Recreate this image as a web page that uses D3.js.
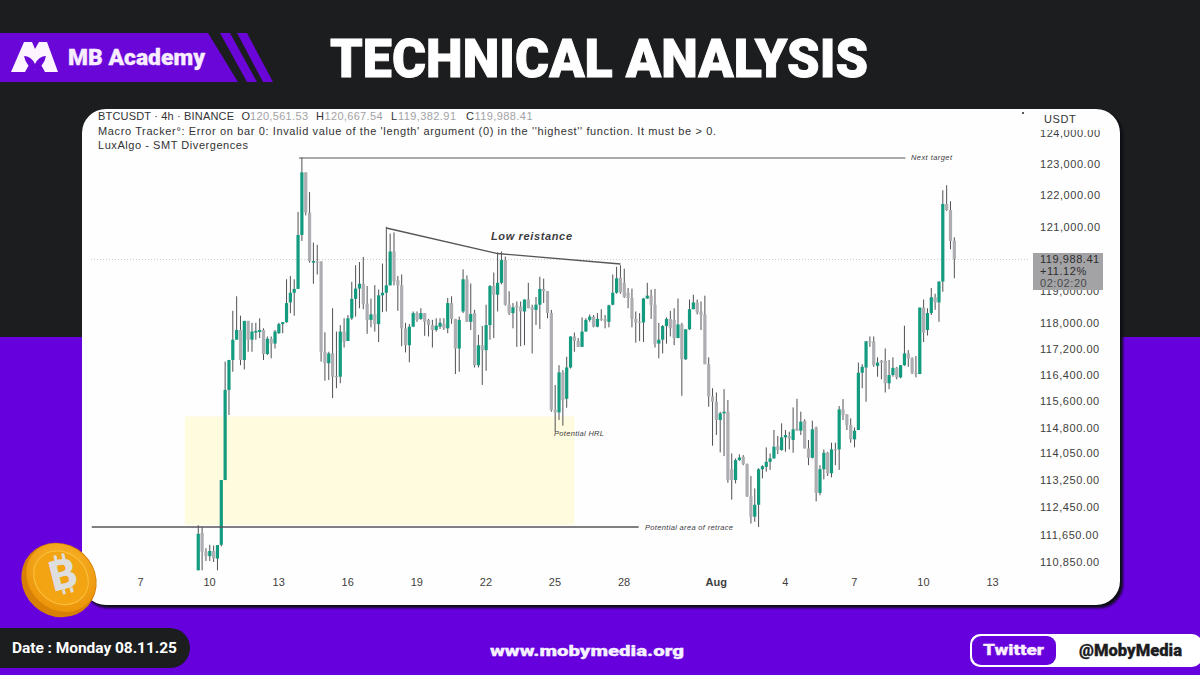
<!DOCTYPE html>
<html><head><meta charset="utf-8">
<script src="https://cdn.jsdelivr.net/npm/d3@7"></script>
<style>html,body{margin:0;padding:0;background:#1c1d1f;overflow:hidden}svg{display:block}</style>
</head><body><div id="chart"></div>
<script>
const opens=[110610,111690,111150,111020,111170,110950,111350,113250,115950,116860,
117480,117780,116860,118060,117480,117700,117720,117780,117040,117510,
117360,117680,117960,118020,118630,118930,119050,120740,122730,121450,
119870,119910,119910,117110,116760,117060,116370,116350,117730,117440,
118140,118740,119060,119210,118590,118090,118260,117960,118850,118930,
119160,120220,119320,119160,117830,117310,117880,118300,118120,118300,
118090,117930,117780,117880,117970,117830,118610,118120,117210,118350,
119350,118030,118300,116700,117310,117160,117930,119140,118870,119240,
119950,118560,118300,118530,118500,118350,118720,118480,118400,118560,
119050,118980,118300,115340,115270,116480,115680,116630,117580,117440,
117260,117730,118090,118190,117880,118120,118120,118030,118560,118930,
119400,119240,118930,118770,118120,118030,118010,118750,118840,118560,
117360,117480,117900,118120,118090,117530,117950,116880,117800,118420,
118630,118350,118260,116730,115750,115590,115040,115240,115290,113570,
113250,113840,113940,113720,112770,112170,112520,113570,113640,113790,
113890,114260,114140,114520,114560,114440,114790,114720,115020,114190,
113910,114820,112870,113570,114060,113450,114160,114160,115360,115210,
114890,114460,114740,116470,116630,117430,117430,116680,116840,116840,
116150,116400,116620,116330,116700,117060,116910,116470,116430,118470,
117780,118300,118790,118630,119280,121720,121530,120561];
const highs=[111920,111870,111250,111350,111330,111340,113250,116810,116860,118370,
118820,118220,118060,118060,118000,118000,118140,117830,117580,117580,
117780,118000,118020,119350,119450,119350,121470,123210,122730,122100,
120500,120430,119910,117710,117110,118450,117730,117930,118140,118240,
119270,119790,119890,120050,119140,118750,119170,119030,119840,121000,
120780,120820,119450,119500,118000,117960,118350,118350,118450,118300,
118120,118090,118140,118140,118140,118770,118820,118120,118190,119660,
119470,119220,118400,117630,117900,118560,119170,119560,120190,120220,
120060,118980,118610,118660,118660,118720,119240,118560,118800,119430,
119370,118980,118400,116100,116700,116550,116960,117580,117700,117530,
118170,118140,118260,118240,118300,118420,118240,118560,119500,119740,
119790,119680,119080,119060,118350,118300,118770,119240,119030,119050,
118000,117930,118170,118370,118450,118750,118000,117800,118720,118870,
118720,118660,118840,116940,116000,115870,115290,115970,115640,114040,
113890,114010,113990,113740,113370,113000,113600,113690,114220,114040,
114740,114560,114940,114740,114690,115420,115680,115290,115060,114440,
115020,114840,113690,114160,114090,114360,114360,115460,115670,115210,
115090,114820,116780,116730,117440,117580,117580,116940,116860,117210,
116860,116940,116650,116700,117910,117160,116940,116980,118470,118720,
118450,119080,118900,119280,122160,122320,121810,120667];
const lows=[110610,110610,110880,110880,110850,110610,111300,113250,115190,116500,
117480,116700,116570,117110,117110,117480,117530,116860,117010,116910,
117210,117660,117680,118000,118300,118220,119050,120550,121360,119870,
119210,119500,116810,116230,116250,115700,116000,116150,117240,117440,
118090,118190,118450,118420,117660,117860,117730,117410,118330,118350,
119160,119160,118370,117280,117090,116790,117880,118030,118090,117600,
117580,117240,117730,117810,117780,117680,117970,116430,116500,118300,
118030,117780,116630,116630,116100,116530,117480,117530,118350,119190,
118530,118240,117830,117260,117280,117310,118450,117060,117930,117810,
118610,118140,115290,114690,115040,114870,115410,116600,117110,117260,
117260,117730,118030,117860,117860,118060,117830,117860,118540,118900,
118900,118770,118450,117860,117390,117440,117410,118750,118120,117240,
116910,117060,117360,117580,117310,117530,115770,116860,117780,118420,
118260,117780,116730,115440,114270,114590,114070,113960,113170,112670,
113150,113820,113690,112750,111970,112020,111870,113300,113500,113550,
113890,114020,114120,114090,114160,114060,114720,114590,114190,113690,
113890,112620,112800,113270,113370,113330,113690,113550,115040,114740,
114360,114220,114740,116000,115590,117260,116650,116350,116270,115870,
115970,116350,116270,116300,116680,116650,116430,116330,116430,117410,
117610,118240,118400,118030,118960,121500,120290,119382];
const closes=[111670,111150,111020,111170,110950,111340,113250,115950,116860,117480,
117780,116860,118060,117480,117730,117750,117780,117040,117510,117360,
117730,117960,118020,118610,118930,119050,120740,122730,121450,119920,
119920,119870,117110,116760,117060,116350,116330,117730,117410,118140,
118740,119060,119210,118590,118090,118260,117960,118850,118930,119160,
120220,119290,119160,117830,117310,117880,118300,118090,118300,118030,
117930,117780,117910,118000,117830,118610,118120,117210,118090,119350,
118030,118270,116700,117310,117160,117930,119140,118870,119240,119950,
118560,118300,118480,118480,118350,118720,118450,118400,118560,119050,
118980,118300,115340,115270,116480,115640,116630,117580,117440,117260,
117730,118090,118190,117880,118120,118090,118050,118540,118930,119380,
118950,118800,118770,118120,118010,118000,118750,118840,118560,117360,
117480,117900,118120,117830,117530,117950,116880,117800,118420,118630,
118320,118240,116730,115750,115590,115040,115240,115290,113250,113250,
113840,113920,113720,112770,112170,112520,113570,113660,113790,113890,
114240,114140,114520,114590,114490,114760,114720,114990,114190,113910,
114760,112870,113570,114060,113450,114160,114140,115360,115190,114890,
114460,114720,116470,116650,117430,117400,116700,116780,116780,116150,
116400,116620,116330,116700,117060,116910,116470,116430,118470,117700,
118300,118790,118630,119280,121720,121530,120550,119988];
const firstBar="2025-07-09T12:00:00Z";
const barHours=4;
const priceTicks=[124000,123000,122000,121000,119000,118000,117200,116400,115600,114800,114050,113250,112450,111650,110850];
const dayTicks=["2025-07-07","2025-07-10","2025-07-13","2025-07-16","2025-07-19","2025-07-22","2025-07-25","2025-07-28","2025-08-01","2025-08-04","2025-08-07","2025-08-10","2025-08-13"];
const dayLabels=["7","10","13","16","19","22","25","28","Aug","4","7","10","13"];
const trendDates=["2025-07-17T16:00:00Z","2025-07-22T12:00:00Z","2025-07-27T20:00:00Z"];
const trendPrices=[120960,120156,119828];
const targetDates=["2025-07-13T21:00:00Z","2025-08-09T05:00:00Z"];
const targetPrice=123193;
const retraceDates=["2025-07-04T21:00:00Z","2025-07-28T15:00:00Z"];
const retracePrice=111870;
const zoneDates=["2025-07-08T22:00:00Z","2025-07-25T20:00:00Z"];
const zonePrices=[115150,111930];
const lastPrice=119970;
const legendO="120,561.53",legendH="120,667.54",legendL="119,382.91",legendC="119,988.41";

const W=1200,H=675;
const svg=d3.select("#chart").append("svg").attr("width",W).attr("height",H).attr("viewBox",[0,0,W,H]);
const defs=svg.append("defs");
const SANS="'Liberation Sans',Arial,sans-serif", HEAVY="Roboto,'Liberation Sans',sans-serif";
const x=d3.scaleUtc().domain([new Date("2025-07-07"),new Date("2025-08-13")]).range([140.7,992.7]);
const y=d3.scaleLog().domain([110850,123000]).range([562,164]);
const cardL=82,cardT=109,cardR=1120,cardB=605;
const PURPLE="#6600dc",BANNER="#6a06d8";

// background
svg.append("rect").attr("width",W).attr("height",H).attr("fill","#1c1d1f");
svg.append("rect").attr("y",337).attr("width",W).attr("height",H-337).attr("fill",PURPLE);

// banner
svg.append("path").attr("d","M0 33H208L238 82H0Z").attr("fill",BANNER);
svg.append("path").attr("d","M220 33H230L257 82H247Z").attr("fill",BANNER);
svg.append("path").attr("d","M237 33H247L273 82H263Z").attr("fill",BANNER);
svg.append("path").attr("d","M11 72L24 42H32L35 49L39 42H47L58 72H45L40 63L35 70L30 63L25 72Z").attr("fill","#fdf4ff");
svg.append("path").attr("d","M24 56Q31 56 35 64Q39 56 46 56Q44 66 35 70Q26 66 24 56Z").attr("fill",BANNER);
svg.append("text").attr("x",68).attr("y",65).attr("font-family",HEAVY).attr("font-weight",900).attr("font-size",22).attr("fill","#f8ecff").attr("stroke","#f8ecff").attr("stroke-width",0.3).attr("textLength",137).attr("lengthAdjust","spacingAndGlyphs").text("MB Academy");
svg.append("text").attr("x",330).attr("y",77).attr("font-family",HEAVY).attr("font-weight",900).attr("font-size",54).attr("fill","#fff").attr("stroke","#fff").attr("stroke-width",0.9).attr("textLength",538).attr("lengthAdjust","spacingAndGlyphs").text("TECHNICAL ANALYSIS");

// card
defs.append("filter").attr("id","soft").append("feGaussianBlur").attr("stdDeviation",1);
svg.append("rect").attr("x",cardL+2).attr("y",cardT+3).attr("width",cardR-cardL+1).attr("height",cardB-cardT).attr("rx",24).attr("fill","#0a0a12").attr("filter","url(#soft)");
svg.append("rect").attr("x",cardL).attr("y",cardT).attr("width",cardR-cardL).attr("height",cardB-cardT).attr("rx",24).attr("fill","#fefefe");

// zone
svg.append("rect").attr("x",x(new Date(zoneDates[0]))).attr("y",y(zonePrices[0])).attr("width",x(new Date(zoneDates[1]))-x(new Date(zoneDates[0]))).attr("height",y(zonePrices[1])-y(zonePrices[0])).attr("fill","#fffbdf");

// last price dotted
svg.append("line").attr("x1",91).attr("x2",1030).attr("y1",y(lastPrice)).attr("y2",y(lastPrice)).attr("stroke","#c9c9c9").attr("stroke-dasharray","1 2");

// candles
const t0=+new Date(firstBar);
const bars=opens.map((o,i)=>({t:new Date(t0+i*barHours*3600e3),o,h:highs[i],l:lows[i],c:closes[i]}));
const g=svg.append("g");
g.selectAll("line.w").data(bars).join("line").attr("class","w")
 .attr("x1",d=>x(d.t)).attr("x2",d=>x(d.t)).attr("y1",d=>y(d.h)).attr("y2",d=>y(d.l)).attr("stroke","#515155").attr("stroke-width",1);
g.selectAll("rect.b").data(bars).join("rect").attr("class","b")
 .attr("x",d=>x(d.t)-1.6).attr("width",3.2)
 .attr("y",d=>y(Math.max(d.o,d.c))).attr("height",d=>Math.max(1,Math.abs(y(d.o)-y(d.c))))
 .attr("fill",d=>d.c>=d.o?"#129b7f":"#adadb2");

// annotations
const lineCol="#565658";
svg.append("line").attr("x1",x(new Date(targetDates[0]))).attr("x2",x(new Date(targetDates[1]))).attr("y1",y(targetPrice)).attr("y2",y(targetPrice)).attr("stroke",lineCol).attr("stroke-width",1.2);
svg.append("line").attr("x1",x(new Date(retraceDates[0]))).attr("x2",x(new Date(retraceDates[1]))).attr("y1",y(retracePrice)).attr("y2",y(retracePrice)).attr("stroke",lineCol).attr("stroke-width",1.4);
svg.append("path").datum(trendDates.map((d,i)=>[x(new Date(d)),y(trendPrices[i])])).attr("d",d3.line()).attr("fill","none").attr("stroke",lineCol).attr("stroke-width",1.3);
const note=(t,px,py,len,size,w)=>svg.append("text").attr("x",px).attr("y",py).attr("font-family",SANS).attr("font-style","italic").attr("font-weight",w||400).attr("font-size",size).attr("fill","#3c3c3e").attr("textLength",len).text(t);
note("Next target",911,160,41,7.5);
note("Low reistance",491,240,81,11,700);
note("Potential HRL",554,435.5,50,7.5);
note("Potential area of retrace",645,530,88,7.5);
svg.append("circle").attr("cx",1023).attr("cy",113).attr("r",1).attr("fill","#222");

// legend
const legTxt=(t,px,py,fill,len)=>{const s=svg.append("text").attr("x",px).attr("y",py).attr("font-family",SANS).attr("font-size",11).attr("fill",fill).text(t);if(len)s.attr("textLength",len);return s;};
legTxt("BTCUSDT · 4h · BINANCE",98,120,"#333",136);
[["O",legendO,241.5],["H",legendH,316],["L",legendL,391],["C",legendC,466]].forEach(([a,b,px])=>{
  legTxt(a,px,120,"#333");
  legTxt(b,px+(a==="L"?7:8.5),120,"#a2a2a6",58);
});
legTxt("Macro Tracker°: Error on bar 0: Invalid value of the 'length' argument (0) in the ''highest'' function. It must be > 0.",98,135,"#333",618);
legTxt("LuxAlgo - SMT Divergences",98,149,"#333",150);

// axes
defs.append("clipPath").attr("id","axClip").append("rect").attr("x",1030).attr("y",130).attr("width",80).attr("height",460);
const axisR=d3.axisRight(y).tickValues(priceTicks).tickFormat(d3.format(",.2f")).tickSize(0).tickPadding(0);
const clipG=svg.append("g").attr("clip-path","url(#axClip)");
const ga=clipG.append("g").attr("transform","translate(1040,0)").call(axisR);
ga.select(".domain").remove();
ga.attr("font-family",SANS).attr("font-size",11);
ga.selectAll("text").attr("fill","#3e3e40").attr("letter-spacing",0.55);
svg.append("text").attr("x",1044).attr("y",123).attr("font-family",SANS).attr("font-size",11).attr("fill","#333").attr("letter-spacing",0.6).text("USDT");
const axisB=d3.axisBottom(x).tickValues(dayTicks.map(d=>new Date(d))).tickFormat((d,i)=>dayLabels[i]).tickSize(0).tickPadding(0);
const gb=svg.append("g").attr("transform","translate(-0.7,578)").call(axisB);
gb.select(".domain").remove();
gb.attr("font-family",SANS).attr("font-size",11);
gb.selectAll("text").attr("fill","#3e3e40").attr("font-weight",(d,i)=>dayLabels[i]==="Aug"?700:400);

// price tag
svg.append("rect").attr("x",1033).attr("y",253).attr("width",70).attr("height",37).attr("fill","#a3a3a5");
[["119,988.41",263],["+11.12%",275],["02:02:20",286.5]].forEach(([t,py],i)=>svg.append("text").attr("x",1040).attr("y",py).attr("font-family",SANS).attr("font-size",11).attr("fill",i==2?"#4a4a4c":"#2e2e30").attr("letter-spacing",0.55).text(t));

// coin
const coinGrad=defs.append("radialGradient").attr("id","coin").attr("cx","40%").attr("cy","35%").attr("r","75%");
coinGrad.append("stop").attr("offset","0%").attr("stop-color","#f9b82f");
coinGrad.append("stop").attr("offset","100%").attr("stop-color","#ea8f04");
const coin=svg.append("g").attr("transform","translate(59,580) rotate(42)");
coin.append("ellipse").attr("cx",0).attr("cy",0).attr("rx",39).attr("ry",36).attr("fill","#d87f05");
coin.append("ellipse").attr("cx",0).attr("cy",-3).attr("rx",37).attr("ry",32).attr("fill","url(#coin)");
coin.append("ellipse").attr("cx",0).attr("cy",-3).attr("rx",29).attr("ry",25).attr("fill","#f3a412").attr("stroke","#fbc040").attr("stroke-width",1);
const bc=svg.append("g").attr("transform","translate(63,574) rotate(-14)").attr("fill","#dedede");
bc.append("text").attr("text-anchor","middle").attr("y",15).attr("font-family",HEAVY).attr("font-weight",900).attr("font-size",42).text("B");
[-5,3].forEach(dx=>{bc.append("rect").attr("x",dx).attr("y",-20).attr("width",3).attr("height",6);bc.append("rect").attr("x",dx).attr("y",15).attr("width",3).attr("height",5);});

// footer
svg.append("path").attr("d","M0 628H170A20 20 0 0 1 170 668H0Z").attr("fill","#1c1d1f");
svg.append("text").attr("x",12).attr("y",653).attr("font-family",HEAVY).attr("font-weight",700).attr("font-size",15.5).attr("fill","#fff").attr("textLength",165).text("Date : Monday 08.11.25");
svg.append("text").attr("x",490).attr("y",656).attr("font-family",HEAVY).attr("font-weight",900).attr("font-size",15).attr("fill","#f4f0ff").attr("stroke","#f4f0ff").attr("stroke-width",0.3).attr("textLength",194).attr("lengthAdjust","spacingAndGlyphs").text("www.mobymedia.org");
svg.append("rect").attr("x",970).attr("y",634).attr("width",232).attr("height",33).attr("rx",10).attr("fill","#fff");
svg.append("rect").attr("x",972).attr("y",636).attr("width",84).attr("height",29).attr("rx",9).attr("fill",PURPLE);
svg.append("text").attr("x",983).attr("y",654.5).attr("font-family",HEAVY).attr("font-weight",900).attr("font-size",15.5).attr("fill","#fbeeff").attr("stroke","#fbeeff").attr("stroke-width",0.3).attr("textLength",61).attr("lengthAdjust","spacingAndGlyphs").text("Twitter");
svg.append("text").attr("x",1079).attr("y",656).attr("font-family",HEAVY).attr("font-weight",900).attr("font-size",16).attr("fill","#1d1d1f").attr("stroke","#1d1d1f").attr("stroke-width",0.3).attr("textLength",103).attr("lengthAdjust","spacingAndGlyphs").text("@MobyMedia");
</script></body></html>
